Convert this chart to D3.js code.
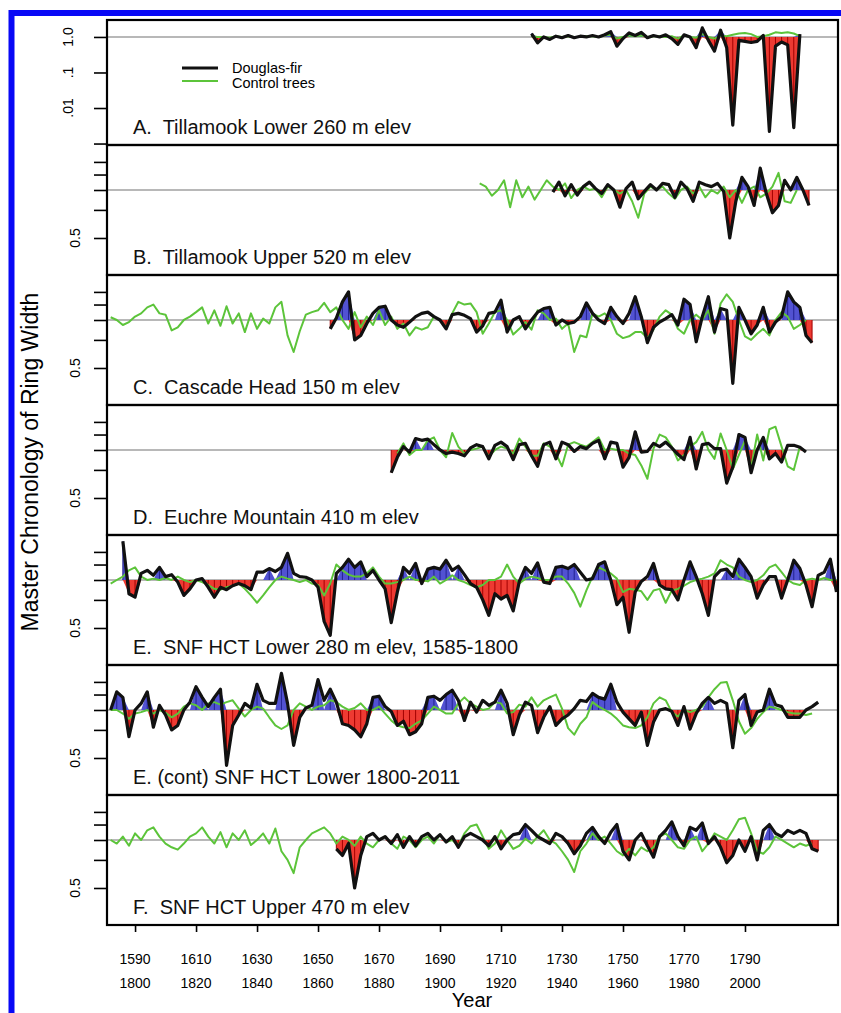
<!DOCTYPE html>
<html>
<head>
<meta charset="utf-8">
<title>Master Chronology of Ring Width</title>
<style>
body { margin: 0; background: #fff; }
svg { display: block; font-family: "Liberation Sans", Arial, sans-serif; }
.frame { fill: none; stroke: #000; stroke-width: 2.2; }
.ref { stroke: #b8b8b8; stroke-width: 2; }
.fir { fill: none; stroke: #111; stroke-width: 3.2; stroke-linejoin: round; }
.ctl { fill: none; stroke: #5cc43a; stroke-width: 2; stroke-linejoin: round; }
.low { fill: #ee3a32; }
.high { fill: #5252d2; }
.lowh { stroke: #a30000; stroke-width: 1; }
.highh { stroke: #22228f; stroke-width: 1; }
.ttl { font-size: 20px; white-space: pre; fill: #111; }
.tick line { stroke: #000; stroke-width: 1.6; }
</style>
<script src="https://cdn.jsdelivr.net/npm/d3@7"></script>
</head>
<body>
<script>

var width = 841, height = 1013;
var left = 107, right = 838;

// panel titles
var titles = [
  "A.  Tillamook Lower 260 m elev",
  "B.  Tillamook Upper 520 m elev",
  "C.  Cascade Head 150 m elev",
  "D.  Euchre Mountain 410 m elev",
  "E.  SNF HCT Lower 280 m elev, 1585-1800",
  "E. (cont) SNF HCT Lower 1800-2011",
  "F.  SNF HCT Upper 470 m elev"
];

// x axis tick labels (two rows share one tick)
var yearTicks = [1800, 1820, 1840, 1860, 1880, 1900, 1920, 1940, 1960, 1980, 2000];
var yearTicksTop = [1590, 1610, 1630, 1650, 1670, 1690, 1710, 1730, 1750, 1770, 1790];

// y ticks
var logTicksA = [1, 0.1, 0.01, 0.001];
var logLabelsA = ["1.0", ".1", ".01", ""];
var ringTicks = [0.5, 0.75, 1, 1.25, 1.5];

// every series is one value per 2 years from its start year
var aFirStart = 1930;
var aFir = [1.25,0.68,1.0,0.85,1.05,0.95,1.1,0.95,1.05,1.0, 1.1,1.0,1.15,1.4,0.55,0.9,1.3,1.1,1.35,0.95,
  1.1,1.0,1.15,0.9,0.62,1.15,1.0,0.5,1.8,0.8, 0.4,1.55,0.5,0.0033,0.8,0.75,0.7,0.75,1.1,0.0022,
  0.55,0.72,0.6,0.0028,1.2];
var aCtlStart = 1930;
var aCtl = [1.05,1.0,1.0,0.95,1.05,1.0,1.05,1.0,1.0,1.05, 1.05,1.0,1.1,1.15,0.9,1.0,1.1,1.05,1.1,1.0,
  1.05,1.05,1.0,1.05,0.9,1.1,1.0,0.95,1.2,1.0, 0.9,1.1,1.05,1.15,1.25,1.3,1.2,1.0,1.05,1.15,
  1.35,1.3,1.35,1.25,1.05];

var bFirStart = 1937;
var bFir = [0.97,1.12,0.92,1.08,0.93,1.05,1.12,1.02,0.95,1.08, 1.0,0.78,1.02,1.12,0.88,0.98,1.08,1.0,1.1,1.08,
  0.9,1.12,1.02,0.85,1.12,1.08,1.05,1.1,0.98,0.5, 0.85,1.2,1.05,0.8,1.37,0.95,0.72,0.8,1.15,1.0,
  1.2,1.0,0.8];
var bCtlStart = 1913;
var bCtl = [1.1,1.05,0.92,1.0,1.15,0.78,1.15,0.9,1.05,0.87,1.0,1.15,
  1.05,1.0,1.1,0.89,1.0,1.05,1.0,1.02,0.9,1.05, 1.0,0.95,1.0,0.85,0.67,0.95,1.05,1.0,1.05,0.95,
  0.88,1.0,1.05,0.95,1.05,0.9,1.0,0.95,1.05,0.9, 1.0,0.83,1.0,1.05,0.9,0.95,1.05,1.28,0.85,0.83,
  1.0];

var cFirStart = 1864;
var cFir = [0.88,1.03,1.3,1.5,0.75,0.8,0.95,1.1,1.2,1.22,1.0,0.93,0.9,0.97,1.05,
  1.1,1.12,1.05,1.0,0.88,1.08,1.1,1.07,1.02,0.84, 0.92,1.1,1.12,1.33,0.84,1.0,1.05,0.88,1.0,1.12,
  1.18,1.2,0.93,1.0,0.95,0.97,1.05,1.28,1.1,1.0, 0.95,1.2,1.05,0.95,1.1,1.4,1.05,0.72,0.9,0.97,
  1.02,1.08,0.93,1.35,1.25,0.73,1.05,1.4,0.84,1.18, 1.15,0.4,1.2,1.0,0.82,0.93,1.2,0.84,0.97,1.05,
  1.5,1.3,1.2,0.8,0.72];
var cCtlStart = 1792;
var cCtl = [1.04,1.0,0.93,0.97,1.05,1.1,1.2,1.25,1.1,1.08, 0.86,0.9,1.0,1.05,1.12,1.2,0.95,1.15,0.92,1.22,
  0.95,1.1,0.84,1.1,0.88,1.02,0.95,1.2,1.3,0.8, 0.63,0.85,1.08,1.12,1.15,1.28,1.12,1.2,1.0,0.88,
  1.12,0.9,1.05,0.93,1.15,0.93,1.05,0.88,0.95,0.8, 0.9,
  0.87,0.9,1.05,1.0,0.9,1.1,1.3,1.25,1.27,1.12, 0.82,0.95,1.12,1.15,1.0,0.81,0.88,0.97,0.87,1.15,
  1.1,1.0,1.02,0.88,0.95,0.63,0.8,0.78,1.1,1.05, 1.1,1.0,0.82,0.77,0.79,0.84,0.84,0.77,0.87,1.05,
  1.15,1.08,0.88,0.82,1.0,1.08,1.0,1.15,0.82,1.27, 1.45,1.3,1.0,0.79,0.75,0.82,0.88,0.8,1.0,1.12,
  1.05,0.88,0.93,1.0];

var dFirStart = 1884;
var dFir = [0.72,0.9,1.05,0.97,1.18,
  1.15,1.17,1.08,1.0,0.95,0.97,0.95,0.92,1.03,1.08, 1.05,0.88,1.07,1.12,1.05,0.87,1.08,1.1,0.92,0.79,
  1.08,1.12,0.88,1.12,1.08,0.98,1.05,1.02,1.1,1.15, 0.88,1.12,1.1,0.78,0.9,1.3,0.97,0.98,1.1,1.05,
  1.12,1.03,0.94,0.87,1.2,0.76,1.08,1.1,1.02,1.02, 0.62,0.78,1.25,1.2,0.72,1.0,1.2,0.88,0.95,0.84,
  1.07,1.07,1.04,0.97];
var dCtlStart = 1886;
var dCtl = [0.95,1.1,0.93,1.0,
  1.0,1.15,1.2,1.0,0.9,1.28,1.05,0.95,1.0,1.02, 1.05,0.91,1.0,1.05,1.02,0.95,1.18,1.05,0.92,0.92,
  1.1,1.05,0.95,0.79,1.08,1.12,1.08,1.05,1.12,1.2, 1.0,1.02,1.0,1.0,0.95,0.93,0.8,0.66,1.02,1.25,
  1.2,1.05,0.86,0.93,1.05,1.12,1.3,1.0,0.88,1.27, 1.0,0.76,0.93,1.15,0.77,1.25,0.86,1.35,1.4,1.05,
  0.79,0.75,1.05];

// panel E uses the upper row of years (1585-1800)
var eFirStart = 1586;
var eFir = [1.75,0.82,0.78,1.1,1.15,1.07,1.2,1.05,1.08,0.97, 0.8,0.88,1.0,1.02,0.9,0.78,0.9,0.87,0.92,0.95,
  0.92,0.87,1.12,1.12,1.18,1.13,1.2,1.47,1.1,1.05, 1.04,1.0,0.9,0.55,0.45,1.1,1.2,1.35,1.2,1.3,
  1.05,1.15,1.0,0.88,0.54,0.84,1.2,1.1,1.27,
  0.95,1.17,1.2,1.17,1.33,1.15,1.22,1.08,0.95,0.9, 0.75,0.6,0.82,0.76,0.8,0.64,0.98,1.2,1.1,1.28,
  0.97,0.95,1.2,1.22,1.18,1.25,1.12,1.0,1.02,1.25, 1.3,1.0,0.7,0.78,0.47,0.84,0.98,1.05,1.27,0.93,
  0.88,0.87,0.75,1.0,1.3,1.05,0.82,0.6,1.05,1.15, 1.17,1.05,1.35,1.2,1.05,0.77,0.93,1.05,1.05,0.77,
  1.0,1.33,1.18,0.93,0.68,1.07,1.12,1.35,0.84];
var eCtlStart = 1582;
var eCtl = [0.95,1.0,1.05,1.15,1.2,1.05,1.0,1.02,1.0,1.03, 1.0,1.05,1.0,0.97,1.0,0.97,0.93,0.88,0.87,0.9,
  0.92,0.95,0.88,0.8,0.72,0.8,0.9,1.0,1.05,1.02, 1.0,0.97,1.0,0.95,0.93,0.8,0.95,1.25,1.15,1.08,
  1.05,1.05,1.1,1.2,1.05,0.95,0.95,0.97,1.0,1.05, 1.0,
  1.0,0.98,1.05,0.95,1.0,1.07,1.0,0.97,0.93,0.9, 0.93,1.0,1.0,1.05,1.25,1.05,0.95,1.02,1.05,1.03,
  1.0,1.0,1.05,1.05,0.95,0.83,0.68,0.86,1.05,1.2, 1.15,1.1,1.02,0.84,0.88,0.87,0.85,0.75,0.86,0.88,
  0.72,0.86,0.88,0.92,0.97,1.0,1.02,1.05,1.1,1.33, 1.25,1.2,1.05,1.0,0.97,1.0,1.07,1.2,1.25,1.12,
  1.0,0.95,0.93,1.0,1.02,1.0,1.03,1.0,1.0];

var e2FirStart = 1792;
var e2Fir = [1.0,1.3,1.2,0.68,1.0,1.1,1.3,0.78,1.07,0.93, 0.75,0.8,1.0,1.12,1.4,1.2,1.05,1.2,1.35,0.45,
  0.8,0.93,1.1,1.03,1.45,1.15,1.1,1.1,1.7,1.1, 0.6,0.9,1.03,1.07,1.55,1.15,1.35,1.12,0.82,0.8,
  0.75,0.68,0.82,1.2,1.22,1.05,0.98,0.8,0.85,0.7, 0.73,
  0.82,1.2,1.22,1.15,1.25,1.33,1.15,0.86,1.12,0.97, 1.15,1.07,1.12,1.33,1.1,0.7,0.93,1.12,1.07,0.72,
  0.9,1.05,0.8,0.88,0.93,1.02,1.15,1.13,1.27,1.2, 1.17,1.45,1.12,0.97,0.88,0.8,0.97,0.6,0.84,1.0,
  1.02,0.98,0.8,1.05,0.76,0.95,1.1,1.2,1.1,1.15, 1.1,0.58,1.15,1.25,0.8,0.97,1.0,1.35,1.08,1.05,
  0.9,0.9,0.9,1.0,1.05,1.12];
var e2CtlStart = 1792;
var e2Ctl = [1.0,1.0,0.95,0.88,0.95,0.97,1.0,0.95,1.0,0.96, 0.9,0.95,1.05,1.1,1.07,1.0,1.1,1.12,1.08,1.12,
  1.15,1.02,0.91,1.0,1.05,1.02,0.9,0.8,0.76,0.8, 1.0,1.1,1.05,1.0,1.05,1.07,1.15,1.12,1.05,1.0,
  1.03,1.1,1.0,1.0,1.05,0.95,0.86,0.8,0.78,0.77, 0.82,
  0.86,0.95,1.05,1.0,0.95,0.95,1.1,1.2,1.1,1.05, 1.0,1.02,1.12,1.1,0.95,0.97,1.08,1.05,1.2,1.05,
  1.15,1.2,1.25,1.02,0.77,0.7,0.82,0.9,1.12,1.05, 1.0,0.95,0.88,0.8,0.78,0.77,0.8,0.9,1.1,1.2,
  1.15,0.97,0.91,1.0,0.97,1.0,1.05,1.2,1.35,1.48, 1.5,1.15,0.85,0.71,0.77,0.88,0.97,1.05,1.03,1.0,
  0.97,0.95,0.95,0.93,0.95];

var fFirStart = 1866;
var fFir = [0.88,0.8,0.95,0.5,0.8,1.05,1.1,1.0,1.05,0.95, 1.08,0.9,1.05,0.92,1.05,1.1,1.0,1.08,0.97,1.05,
  0.9,1.05,1.1,1.05,1.0,0.92,1.05,0.88,1.0,1.08, 1.1,1.25,1.15,1.05,1.0,0.95,1.1,1.05,0.95,0.82,
  0.92,1.1,1.2,1.05,0.95,1.12,1.25,0.85,0.75,1.0, 1.1,0.92,0.78,1.05,1.15,1.3,1.05,0.92,1.2,1.15,
  1.28,0.95,1.05,0.9,0.72,0.8,1.0,0.85,1.05,0.75, 1.15,1.25,1.1,1.05,1.15,1.1,1.15,1.1,0.88,0.85];
var fCtlStart = 1792;
var fCtl = [1.0,0.95,1.05,0.92,1.1,1.0,1.15,1.2,1.05,0.95, 0.9,0.87,0.95,1.05,1.1,1.2,1.05,0.95,1.12,0.9,
  1.1,1.0,1.15,0.93,1.0,1.1,0.95,1.18,0.85,0.75, 0.62,0.9,1.0,1.1,1.15,1.2,1.1,0.95,1.05,1.0,
  0.92,1.05,0.95,0.9,1.0,1.05,0.95,0.88,1.05,1.0, 0.9,1.0,1.05,0.95,1.08,0.97,1.0,0.92,1.1,1.22,
  1.25,1.05,0.88,0.95,1.15,1.0,0.88,0.92,1.02,0.95, 1.05,1.15,1.0,0.95,0.85,0.75,0.63,0.85,0.95,1.1,
  1.0,1.05,0.95,0.85,0.8,0.88,0.8,0.9,0.85,0.9, 1.05,1.1,1.0,0.9,0.88,1.0,1.05,0.85,0.95,1.1,
  1.05,1.0,1.15,1.35,1.38,1.1,0.85,0.82,0.9,1.05, 1.0,0.95,0.9,0.95,0.92,0.95];

var panels = [
  {top: 20,  bottom: 145, fir: aFir, firStart: aFirStart, ctl: aCtl, ctlStart: aCtlStart, shift: 0, dom: [0.00091, 3.0]},
  {top: 145, bottom: 275, fir: bFir, firStart: bFirStart, ctl: bCtl, ctlStart: bCtlStart, shift: 0, dom: [0.293, 1.915]},
  {top: 275, bottom: 405, fir: cFir, firStart: cFirStart, ctl: cCtl, ctlStart: cCtlStart, shift: 0, dom: [0.293, 1.915]},
  {top: 405, bottom: 535, fir: dFir, firStart: dFirStart, ctl: dCtl, ctlStart: dCtlStart, shift: 0, dom: [0.293, 1.915]},
  {top: 535, bottom: 665, fir: eFir, firStart: eFirStart, ctl: eCtl, ctlStart: eCtlStart, shift: 210, dom: [0.293, 1.915]},
  {top: 665, bottom: 795, fir: e2Fir, firStart: e2FirStart, ctl: e2Ctl, ctlStart: e2CtlStart, shift: 0, dom: [0.293, 1.915]},
  {top: 795, bottom: 925, fir: fFir, firStart: fFirStart, ctl: fCtl, ctlStart: fCtlStart, shift: 0, dom: [0.293, 1.915]}
];

var svg = d3.select("body").append("svg")
    .attr("width", width)
    .attr("height", height);

// blue outer frame
svg.append("path")
    .attr("d", "M11.5," + height + "V13H" + width)
    .attr("fill", "none")
    .attr("stroke", "#0808f6")
    .attr("stroke-width", 6);

var x = d3.scaleLinear().domain([1790.8, 2030.5]).range([left, right]);

function toPoints(vals, start, shift) {
  return vals.map(function(v, i) { return {yr: start + 2 * i + shift, v: v}; });
}

panels.forEach(function(p, k) {
  var y = d3.scaleLog().domain(p.dom).range([p.bottom, p.top]);
  var g = svg.append("g");

  g.append("clipPath").attr("id", "clip" + k)
    .append("rect")
      .attr("x", left).attr("y", p.top)
      .attr("width", right - left).attr("height", p.bottom - p.top);

  var body = g.append("g").attr("clip-path", "url(#clip" + k + ")");

  body.append("line")
      .attr("class", "ref")
      .attr("x1", left).attr("x2", right)
      .attr("y1", y(1)).attr("y2", y(1));

  var fir = toPoints(p.fir, p.firStart, p.shift);
  var ctl = toPoints(p.ctl, p.ctlStart, p.shift);
  var blueCut = 1.15;

  // growth below the mean in red, strong peaks in blue
  body.append("path")
      .attr("class", "low")
      .attr("d", d3.area()
        .x(function(d) { return x(d.yr); })
        .y0(y(1))
        .y1(function(d) { return y(Math.min(d.v, 1)); })(fir));

  body.append("path")
      .attr("class", "high")
      .attr("d", d3.area()
        .x(function(d) { return x(d.yr); })
        .y0(y(1))
        .y1(function(d) { return y(d.v > blueCut ? d.v : 1); })(fir));

  body.selectAll("line.lowh")
      .data(fir.filter(function(d) { return d.v < 0.97; }))
    .enter().append("line")
      .attr("class", "lowh")
      .attr("x1", function(d) { return x(d.yr); })
      .attr("x2", function(d) { return x(d.yr); })
      .attr("y1", y(1))
      .attr("y2", function(d) { return y(d.v); });

  body.selectAll("line.highh")
      .data(fir.filter(function(d) { return d.v > blueCut; }))
    .enter().append("line")
      .attr("class", "highh")
      .attr("x1", function(d) { return x(d.yr); })
      .attr("x2", function(d) { return x(d.yr); })
      .attr("y1", y(1))
      .attr("y2", function(d) { return y(d.v); });

  var line = d3.line()
      .x(function(d) { return x(d.yr); })
      .y(function(d) { return y(d.v); });

  body.append("path").attr("class", "ctl").attr("d", line(ctl));
  body.append("path").attr("class", "fir").attr("d", line(fir));

  // left ticks
  var ticks = k === 0 ? logTicksA : ringTicks;
  g.append("g")
      .attr("transform", "translate(" + left + ",0)")
      .call(d3.axisLeft(y).tickValues(ticks).tickSize(13).tickFormat(""))
      .call(function(s) { s.select(".domain").remove(); });

  if (k === 0) {
    logTicksA.forEach(function(t, i) {
      if (!logLabelsA[i]) return;
      g.append("text")
          .attr("transform", "translate(68," + y(t) + ") rotate(-90)")
          .attr("text-anchor", "middle")
          .attr("dy", "0.35em")
          .attr("font-size", 14)
          .text(logLabelsA[i]);
    });
  } else {
    g.append("text")
        .attr("transform", "translate(75," + y(0.5) + ") rotate(-90)")
        .attr("text-anchor", "middle")
        .attr("dy", "0.35em")
        .attr("font-size", 14)
        .text("0.5");
  }

  g.append("rect")
      .attr("class", "frame")
      .attr("x", left).attr("y", p.top)
      .attr("width", right - left).attr("height", p.bottom - p.top);

  g.append("text")
      .attr("class", "ttl")
      .attr("x", 133)
      .attr("y", p.bottom - 11)
      .text(titles[k]);
});

// legend in panel A
var legend = svg.append("g");
legend.append("line").attr("x1", 182).attr("x2", 218).attr("y1", 68).attr("y2", 68)
    .attr("stroke", "#111").attr("stroke-width", 3.2);
legend.append("line").attr("x1", 182).attr("x2", 218).attr("y1", 81).attr("y2", 81)
    .attr("stroke", "#5cc43a").attr("stroke-width", 2);
legend.append("text").attr("x", 232).attr("y", 73).attr("font-size", 14.5).text("Douglas-fir");
legend.append("text").attr("x", 232).attr("y", 88).attr("font-size", 14.5).text("Control trees");

// bottom axis
var bottom = panels[panels.length - 1].bottom;
svg.append("g")
    .attr("transform", "translate(0," + bottom + ")")
    .call(d3.axisBottom(x).tickValues(yearTicks).tickSize(7).tickFormat(""))
    .call(function(s) { s.select(".domain").remove(); });

svg.selectAll("text.yrTop")
    .data(yearTicksTop)
  .enter().append("text")
    .attr("class", "yrTop")
    .attr("x", function(d, i) { return x(yearTicks[i]); })
    .attr("y", 964)
    .attr("text-anchor", "middle")
    .attr("font-size", 14)
    .text(function(d) { return d; });

svg.selectAll("text.yrBot")
    .data(yearTicks)
  .enter().append("text")
    .attr("class", "yrBot")
    .attr("x", function(d) { return x(d); })
    .attr("y", 988)
    .attr("text-anchor", "middle")
    .attr("font-size", 14)
    .text(function(d) { return d; });

svg.append("text")
    .attr("x", 472).attr("y", 1007)
    .attr("text-anchor", "middle")
    .attr("font-size", 20)
    .text("Year");

svg.append("text")
    .attr("transform", "translate(30,462) rotate(-90)")
    .attr("text-anchor", "middle")
    .attr("dy", "0.35em")
    .attr("font-size", 23)
    .text("Master Chronology of Ring Width");

</script>
</body>
</html>
